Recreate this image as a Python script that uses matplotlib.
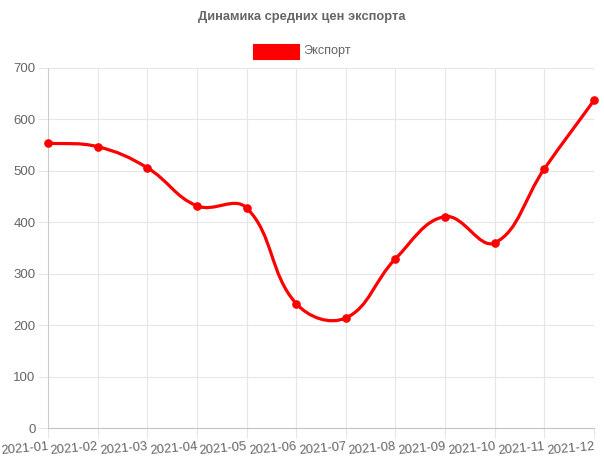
import numpy as np
import matplotlib
matplotlib.use("Agg")
import matplotlib.pyplot as plt
from matplotlib.path import Path
from matplotlib.patches import PathPatch, Rectangle

months = ["2021-01", "2021-02", "2021-03", "2021-04", "2021-05", "2021-06",
          "2021-07", "2021-08", "2021-09", "2021-10", "2021-11", "2021-12"]
export_values = [554, 547, 506, 432, 428, 242, 214, 329, 411, 360, 504, 637]
y_ticks = [0, 100, 200, 300, 400, 500, 600, 700]
title = "Динамика средних цен экспорта"
series_name = "Экспорт"

plt.rcParams['font.family'] = ['Liberation Sans', 'DejaVu Sans']
TXT = '#666666'
GRID = '#e6e6e6'
RED = '#ff0000'

W, H = 604, 465
fig = plt.figure(figsize=(W / 100, H / 100), dpi=100)
ax = fig.add_axes([48 / W, 1 - 428 / H, (594 - 48) / W, (428 - 68) / H])
x = np.arange(len(months))
ax.set_xlim(0, len(months) - 1)
ax.set_ylim(0, 700)

# Chart.js-like spline (tension 0.4) computed in pixel space
fig.canvas.draw()
pts = ax.transData.transform(np.column_stack([x, export_values]))
t = 0.4
n = len(pts)
cp_prev = np.zeros_like(pts)
cp_next = np.zeros_like(pts)
for i in range(n):
    p0 = pts[i - 1] if i > 0 else pts[i]
    p1 = pts[i]
    p2 = pts[i + 1] if i < n - 1 else pts[i]
    d01 = np.hypot(*(p1 - p0))
    d12 = np.hypot(*(p2 - p1))
    tot = d01 + d12
    s01 = d01 / tot if tot else 0
    s12 = d12 / tot if tot else 0
    fa, fb = t * s01, t * s12
    cp_prev[i] = p1 - fa * (p2 - p0)
    cp_next[i] = p1 + fb * (p2 - p0)
verts = [pts[0]]
codes = [Path.MOVETO]
for i in range(n - 1):
    verts += [cp_next[i], cp_prev[i + 1], pts[i + 1]]
    codes += [Path.CURVE4] * 3
verts = ax.transData.inverted().transform(np.array(verts))
path = Path(verts, codes)
ax.add_patch(PathPatch(path, facecolor='none', edgecolor=RED, lw=2.3,
                       capstyle='round', joinstyle='round', zorder=3, clip_on=False))
ax.plot(x, export_values, 'o', color=RED, ms=5.2, zorder=4, clip_on=False)

ax.set_xticks(x)
ax.set_xticklabels(months, rotation=5, ha='right', rotation_mode='anchor',
                   fontsize=9.3, color=TXT)
ax.set_yticks(y_ticks)
ax.set_yticklabels([str(v) for v in y_ticks], fontsize=9.5, color=TXT)
ax.tick_params(axis='both', length=7, color=GRID, width=0.8)
ax.tick_params(axis='y', pad=2)
ax.tick_params(axis='x', pad=2)
ax.grid(True, color=GRID, lw=0.8)
ax.set_axisbelow(True)
for s in ['top', 'right']:
    ax.spines[s].set_visible(False)
ax.spines['left'].set_color('#cccccc')
ax.spines['bottom'].set_color('#c4c4c4')
ax.spines['left'].set_linewidth(0.8)
ax.spines['bottom'].set_linewidth(0.8)

fig.text(0.5, 1 - 17 / H, title, ha='center', va='center', fontsize=9.3,
         fontweight='bold', color=TXT)
# legend
fig.patches.append(Rectangle((253 / W, 1 - 59 / H), 46 / W, 15 / H,
                             transform=fig.transFigure, facecolor=RED,
                             edgecolor=RED, lw=0.8))
fig.text(303 / W, 1 - 51 / H, series_name, ha='left', va='center',
         fontsize=9.1, color=TXT)

fig.savefig('out.png', dpi=100)
